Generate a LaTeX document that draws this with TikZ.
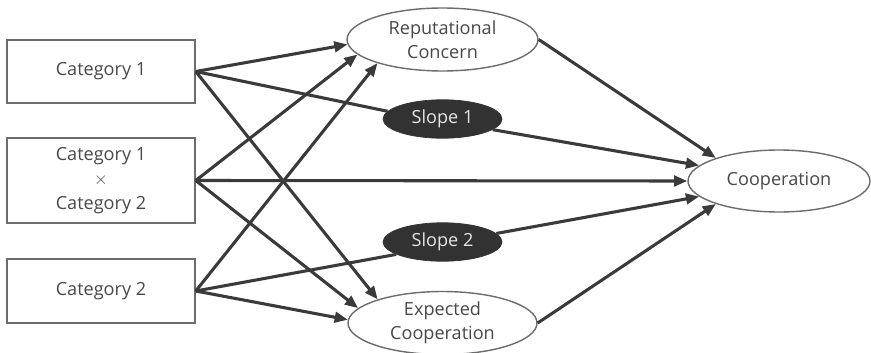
\documentclass[tikz,border=0pt]{standalone}
\usepackage{fontspec}
\setmainfont{Open Sans}
\usetikzlibrary{arrows.meta,shapes.geometric}
\definecolor{cline}{RGB}{58,58,58}
\definecolor{cedge}{RGB}{108,108,108}
\definecolor{ctext}{RGB}{72,72,72}
\definecolor{cslope}{RGB}{50,50,50}

\begin{document}
\begin{tikzpicture}[
  x=0.02cm, y=0.02cm,
  font=\fontsize{10.3}{13.9}\selectfont,
  catbox/.style={draw=cedge,line width=0.9pt,minimum width=3.76cm,align=center,text=ctext,inner sep=0pt},
  oval/.style={ellipse,draw=cedge,line width=0.8pt,fill=white,align=center,text=ctext,inner sep=0pt},
  slope/.style={ellipse,fill=cslope,draw=cslope,text=white!90!black,inner sep=0pt,minimum width=2.38cm,minimum height=0.77cm},
  arrow/.style={-{Triangle[length=7.5pt,width=6pt]},line width=1.75pt,draw=cline},
  link/.style={line width=1.75pt,draw=cline}
]
  \useasboundingbox (0,0) rectangle (871,352);

  % left boxes
  \node[catbox,minimum height=1.26cm] (cat1) at (101,280.5) {Category 1};
  \node[catbox,minimum height=1.70cm] (catx) at (101,171.5) {Category 1\\$\times$\\Category 2};
  \node[catbox,minimum height=1.28cm] (cat2) at (101,61) {Category 2};

  % middle
  \node[oval,minimum width=3.82cm,minimum height=1.26cm] (rep) at (442.5,312.5) {Reputational\\Concern};
  \node[slope] (slope1) at (442.5,233) {Slope 1};
  \node[slope] (slope2) at (442.5,110) {Slope 2};
  \node[oval,minimum width=3.78cm,minimum height=1.26cm] (expc) at (442.5,29) {Expected\\Cooperation};

  % outcome
  \node[oval,minimum width=3.64cm,minimum height=1.24cm] (coop) at (779,171) {Cooperation};

  % paths to the mediators
  \draw[arrow] (cat1.east) -- (rep.183);
  \draw[arrow] (catx.east) -- (rep.190);
  \draw[arrow] (cat2.east) -- (rep.200);
  \draw[arrow] (cat1.east) -- (expc.160);
  \draw[arrow] (catx.east) -- (expc.170);
  \draw[arrow] (cat2.east) -- (expc.178);

  % moderated paths
  \draw[link] (cat1.east) -- (slope1.172);
  \draw[arrow] (slope1.348) -- (coop.169);
  \draw[link] (cat2.east) -- (slope2.195);
  \draw[arrow] (slope2.9) -- (coop.191);

  % direct paths
  \draw[arrow] (catx.east) -- (coop.west);
  \draw[arrow] (rep.east) -- (coop.160);
  \draw[arrow] (expc.east) -- (coop.200);
\end{tikzpicture}
\end{document}
